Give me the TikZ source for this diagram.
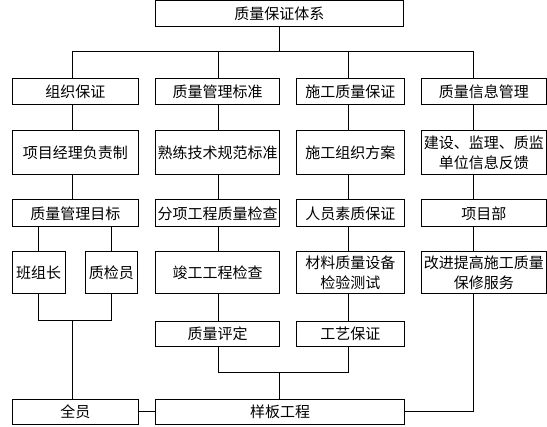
\documentclass[tikz,border=0pt]{standalone}
\usepackage{fontspec}
\newfontfamily\cjk{Noto Sans CJK SC}
\begin{document}
\begin{tikzpicture}[x=1pt,y=-1pt,
  box/.style={draw, line width=1pt, inner sep=0pt, align=center, font=\cjk\fontsize{15}{20}\selectfont},
  cola/.style={minimum width=126pt},
  colb/.style={minimum width=123.6pt},
  colc/.style={minimum width=108pt},
  cold/.style={minimum width=125pt},
  rowb/.style={minimum height=25.7pt},
  rowc/.style={minimum height=43.3pt},
  rowd/.style={minimum height=26.7pt},
  rowe/.style={minimum height=42pt},
  rowf/.style={minimum height=25pt},
  rowg/.style={minimum height=25.4pt},
  ln/.style={line width=1pt}]
\useasboundingbox (0,0) rectangle (547,427);
% top
\node[box, minimum width=248.7pt, minimum height=26.2pt] (top) at (279.35,13.6) {质量保证体系};
% row 2
\node[box,cola,rowb] (a2) at (75.3,91.85) {组织保证};
\node[box,colb,rowb] (b2) at (217.5,91.85) {质量管理标准};
\node[box,colc,rowb] (c2) at (350.3,91.85) {施工质量保证};
\node[box,cold,rowb] (d2) at (483.8,91.85) {质量信息管理};
% row 3
\node[box,cola,rowc] (a3) at (75.3,152.65) {项目经理负责制};
\node[box,colb,rowc] (b3) at (217.5,152.65) {熟练技术规范标准};
\node[box,colc,rowc] (c3) at (350.3,152.65) {施工组织方案};
\node[box,cold,rowc] (d3) at (483.8,152.65) {建设、监理、质监\\单位信息反馈};
% row 4
\node[box,cola,rowd] (a4) at (75.3,213.35) {质量管理目标};
\node[box,colb,rowd] (b4) at (217.5,213.35) {分项工程质量检查};
\node[box,colc,rowd] (c4) at (350.3,213.35) {人员素质保证};
\node[box,cold,rowd] (d4) at (483.8,213.35) {项目部};
% row 5
\node[box,rowe,minimum width=52.7pt] (bz) at (38.65,272.7) {班组长};
\node[box,rowe,minimum width=52.7pt] (zj) at (111.35,272.7) {质检员};
\node[box,colb,rowe] (b5) at (217.5,272.7) {竣工工程检查};
\node[box,colc,rowe] (c5) at (350.3,272.7) {材料质量设备\\检验测试};
\node[box,cold,rowe] (d5) at (483.8,272.7) {改进提高施工质量\\保修服务};
% row 6
\node[box,colb,rowf] (b6) at (217.5,333.8) {质量评定};
\node[box,colc,rowf] (c6) at (350.3,333.8) {工艺保证};
% bottom
\node[box,cola,rowg] (qy) at (75.3,412) {全员};
\node[box,rowg,minimum width=248.6pt] (yb) at (280,412) {样板工程};
% connectors
\coordinate (k1) at (72.7,51.7);
\coordinate (k2) at (218.3,51.7);
\coordinate (k3) at (348.7,51.7);
\coordinate (k4) at (473.7,51.7);
\draw[ln] (top.south) -- (top.south |- k1);
\draw[ln] (k1 |- a2.north) -- (k1) -- (k4) -- (k4 |- d2.north);
\draw[ln] (k2) -- (k2 |- b2.north);
\draw[ln] (k3) -- (k3 |- c2.north);
% column 1
\draw[ln] (k1 |- a2.south) -- (k1 |- a3.north);
\draw[ln] (k1 |- a3.south) -- (k1 |- a4.north);
\draw[ln] (bz.north) -- (bz.north |- a4.south);
\draw[ln] (zj.north) -- (zj.north |- a4.south);
\coordinate (m1) at (72.7,321);
\draw[ln] (bz.south) -- (bz.south |- m1) -- (zj.south |- m1) -- (zj.south);
\draw[ln] (m1) -- (m1 |- qy.north);
% column 2
\draw[ln] (k2 |- b2.south) -- (k2 |- b3.north);
\draw[ln] (k2 |- b3.south) -- (k2 |- b4.north);
\draw[ln] (k2 |- b4.south) -- (k2 |- b5.north);
\draw[ln] (k2 |- b5.south) -- (k2 |- b6.north);
% column 3
\draw[ln] (k3 |- c2.south) -- (k3 |- c3.north);
\draw[ln] (k3 |- c3.south) -- (k3 |- c4.north);
\draw[ln] (k3 |- c4.south) -- (k3 |- c5.north);
\draw[ln] (k3 |- c5.south) -- (k3 |- c6.north);
% column 4
\draw[ln] (k4 |- d2.south) -- (k4 |- d3.north);
\draw[ln] (k4 |- d3.south) -- (k4 |- d4.north);
\draw[ln] (k4 |- d4.south) -- (k4 |- d5.north);
% bottom joins
\coordinate (m2) at (279.3,373);
\draw[ln] (k2 |- b6.south) -- (k2 |- m2) -- (k3 |- m2) -- (k3 |- c6.south);
\draw[ln] (m2) -- (m2 |- yb.north);
\draw[ln] (qy.east) -- (yb.west);
\draw[ln] (yb.east) -- (yb.east -| k4) -- (k4 |- d5.south);
\end{tikzpicture}
\end{document}
